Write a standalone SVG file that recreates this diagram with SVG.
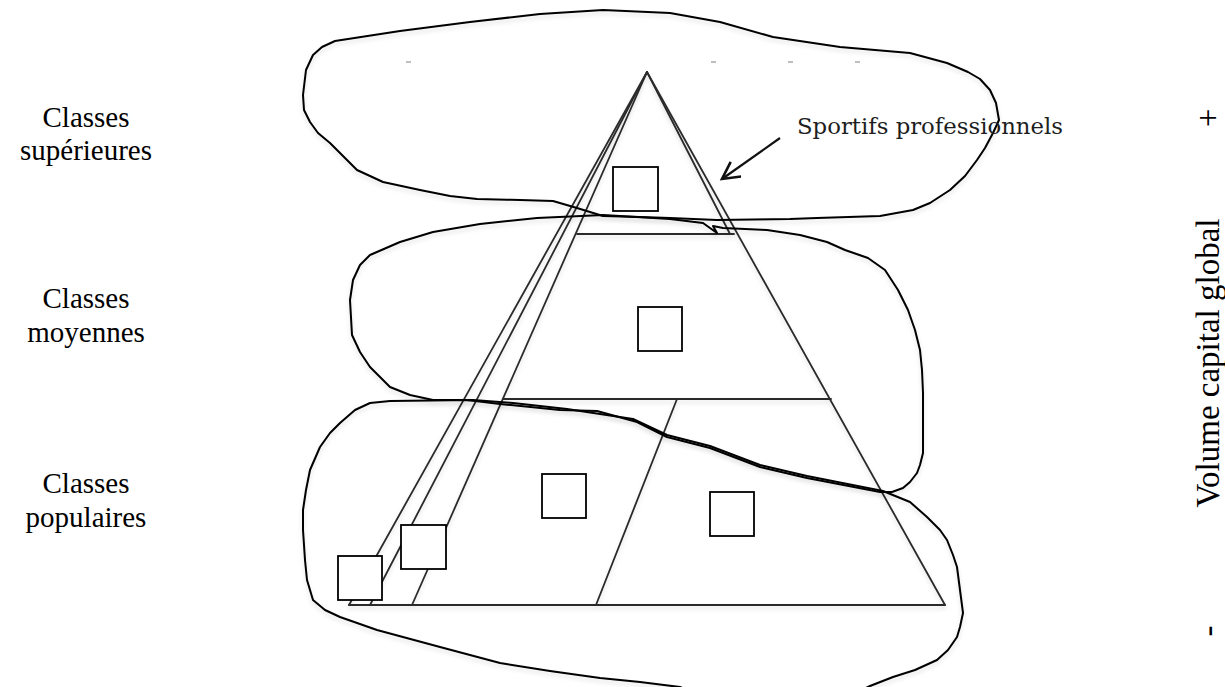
<svg xmlns="http://www.w3.org/2000/svg" width="1225" height="687" viewBox="0 0 1225 687">
<defs>
<style>
.lbl{font-family:"Liberation Serif","Times New Roman",serif;font-size:29px;fill:#000;text-anchor:middle}
.axis{font-family:"Liberation Serif","Times New Roman",serif;font-size:33px;fill:#000;text-anchor:middle}
.note{font-family:"DejaVu Serif","Liberation Serif",serif;font-size:22px;fill:#1e1e1e}
.tri{fill:none;stroke:#2c2c2c;stroke-width:1.8;stroke-linecap:round}
.sq{fill:#fff;stroke:#000;stroke-width:1.8}
.blob{fill:none;stroke:#000;stroke-width:2;stroke-linejoin:round}
.dash{stroke:#aaa;stroke-width:1.5}
</style>
<filter id="sh" x="-5%" y="-5%" width="110%" height="115%">
<feDropShadow dx="0" dy="3" stdDeviation="2" flood-color="#000" flood-opacity="0.12"/>
</filter>
<marker id="vhead" markerUnits="userSpaceOnUse" markerWidth="24" markerHeight="24" refX="20" refY="10" orient="auto">
<path d="M3,1 L20,10 L3,19" fill="none" stroke="#111" stroke-width="2.6"/>
</marker>
</defs>

<g id="labels-left">
<text class="lbl" x="86" y="127">Classes</text>
<text class="lbl" x="86" y="160">supérieures</text>
<text class="lbl" x="86" y="308">Classes</text>
<text class="lbl" x="86" y="342">moyennes</text>
<text class="lbl" x="86" y="493">Classes</text>
<text class="lbl" x="86" y="527">populaires</text>
</g>

<g id="axis-label">
<text class="axis" transform="translate(1219,118) rotate(-90)">+</text>
<text class="axis" transform="translate(1219,363) rotate(-90)">Volume capital global</text>
<text class="axis" transform="translate(1219,631) rotate(-90)">-</text>
</g>

<g id="dashes">
<line class="dash" x1="406" y1="62" x2="411" y2="62"/>
<line class="dash" x1="711" y1="62" x2="716" y2="62"/>
<line class="dash" x1="788" y1="62" x2="793" y2="62"/>
<line class="dash" x1="855" y1="62" x2="860" y2="62"/>
</g>

<g id="pyramid" filter="url(#sh)">
<line class="tri" x1="647" y1="72" x2="945" y2="605"/>
<line class="tri" x1="647" y1="72" x2="730" y2="234"/>
<line class="tri" x1="647" y1="72" x2="349" y2="605"/>
<line class="tri" x1="647" y1="72" x2="370" y2="605"/>
<line class="tri" x1="647" y1="72" x2="412" y2="605"/>
<line class="tri" x1="577" y1="234" x2="734" y2="234"/>
<line class="tri" x1="503" y1="399" x2="831" y2="399"/>
<line class="tri" x1="677" y1="399" x2="596" y2="605"/>
<line class="tri" x1="349" y1="605" x2="945" y2="605"/>
</g>

<g id="boxes">
<rect id="box-sup" class="sq" x="613" y="167" width="45" height="44"/>
<rect id="box-moy" class="sq" x="638" y="307" width="44" height="44"/>
<rect id="box-pop1" class="sq" x="542" y="474" width="44" height="44"/>
<rect id="box-pop2" class="sq" x="710" y="492" width="44" height="44"/>
<rect id="box-pop3" class="sq" x="401" y="525" width="45" height="44"/>
<rect id="box-pop4" class="sq" x="338" y="556" width="44" height="44"/>
</g>

<g id="blob-superieures" filter="url(#sh)">
<path class="blob" d="M303,95 L306,70 L313,55 L322,47 L335,41 L400,31 L470,22 L540,14 L603,10 L670,13 L720,22 L773,37 L840,47 L910,53 L947,63 L968,72 L980,79 L990,90 L996,103 L999,120 L993,133 L985,148 L977,160 L965,176 L950,190 L930,203 L913,210 L880,216 L817,218 L790,219 L717,220 L670,218 L640,217 L603,216 L590,212 L577,208 L553,201 L520,200 L477,199 L450,196 L420,190 L383,182 L357,170 L345,158 L330,143 L318,133 L310,122 L304,110 Z"/>
</g>

<g id="blob-moyennes" filter="url(#sh)">
<path class="blob" d="M370,255 L400,242 L433,232 L480,224 L537,218 L603,215 L670,219 L703,223 L717,233 L713,226 L723,228 L767,230 L800,235 L827,242 L845,250 L868,258 L885,270 L898,290 L908,310 L915,330 L920,350 L922,370 L923,393 L923,453 L920,465 L917,473 L910,482 L903,488 L892,492 L880,492 L807,478 L760,467 L710,448 L667,437 L637,422 L597,411 L560,410 L500,404 L467,400 L433,400 L410,395 L390,387 L370,367 L360,352 L352,335 L350,300 L353,280 L360,265 Z"/>
</g>

<g id="blob-populaires" filter="url(#sh)">
<path class="blob" d="M340,423 L355,410 L370,403 L390,401 L473,400 L513,403 L567,409 L633,419 L667,435 L710,446 L760,465 L807,476 L883,491 L910,502 L927,517 L940,530 L947,540 L953,555 L957,567 L960,590 L963,613 L960,627 L957,637 L948,650 L937,660 L915,670 L893,677 L870,686 L850,696 L700,696 L680,687 L640,682 L600,678 L550,671 L500,663 L440,647 L377,630 L340,617 L325,610 L313,600 L307,580 L305,560 L303,530 L303,510 L306,490 L310,470 L320,447 L330,433 Z"/>
</g>

<g id="connectors">
<line x1="780" y1="138" x2="722" y2="179" stroke="#111" stroke-width="2.2" marker-end="url(#vhead)"/>
</g>

<g id="annotation">
<text class="note" x="797" y="134" textLength="266" lengthAdjust="spacingAndGlyphs">Sportifs professionnels</text>
</g>
</svg>
